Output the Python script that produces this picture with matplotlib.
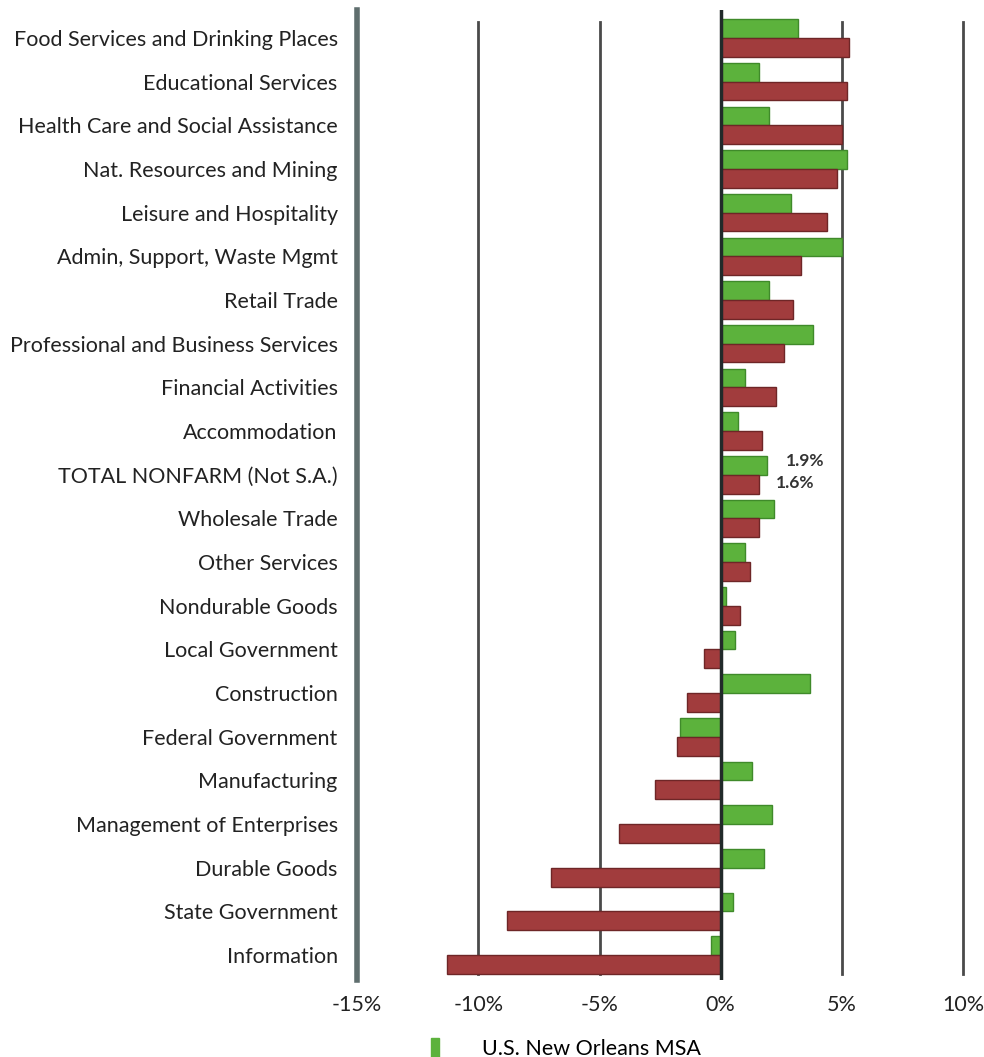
import matplotlib
matplotlib.use("Agg")
import matplotlib.pyplot as plt
import numpy as np
from matplotlib.patches import Patch

categories = [
    "Food Services and Drinking Places", "Educational Services",
    "Health Care and Social Assistance", "Nat. Resources and Mining",
    "Leisure and Hospitality", "Admin, Support, Waste Mgmt", "Retail Trade",
    "Professional and Business Services", "Financial Activities", "Accommodation",
    "TOTAL NONFARM (Not S.A.)", "Wholesale Trade", "Other Services",
    "Nondurable Goods", "Local Government", "Construction", "Federal Government",
    "Manufacturing", "Management of Enterprises", "Durable Goods",
    "State Government", "Information",
]
# year-over-year change, percent
us = [3.2, 1.6, 2.0, 5.2, 2.9, 5.0, 2.0, 3.8, 1.0, 0.7, 1.9, 2.2, 1.0, 0.2,
      0.6, 3.7, -1.7, 1.3, 2.1, 1.8, 0.5, -0.4]
nola = [5.3, 5.2, 5.0, 4.8, 4.4, 3.3, 3.0, 2.6, 2.3, 1.7, 1.6, 1.6, 1.2, 0.8,
        -0.7, -1.4, -1.8, -2.7, -4.2, -7.0, -8.8, -11.3]
xticks = [-15, -10, -5, 0, 5, 10]
xticklabels = ["-15%", "-10%", "-5%", "0%", "5%", "10%"]

plt.rcParams["font.family"] = ["Lato", "DejaVu Sans"]

fig = plt.figure(figsize=(9.84, 10.57), dpi=100)
ax = fig.add_axes([0.363, 0.0728, 0.6157, 0.9177])

y = np.arange(len(categories))
h = 0.43
green = "#5cb23c"
red = "#a13c3d"
ax.barh(y - h / 2, us, height=h, color=green, edgecolor="#3f8a2a", linewidth=1.0, zorder=3)
ax.barh(y + h / 2, nola, height=h, color=red, edgecolor="#6e2627", linewidth=1.0, zorder=3)

# label the total nonfarm pair
i_tot = categories.index("TOTAL NONFARM (Not S.A.)")
ax.annotate(f"{us[i_tot]:.1f}%", (us[i_tot], i_tot - h / 2), xytext=(14, 3),
            textcoords="offset points", va="center", ha="left",
            fontsize=12.5, fontweight="bold", color="#333333")
ax.annotate(f"{nola[i_tot]:.1f}%", (nola[i_tot], i_tot + h / 2), xytext=(12, 1),
            textcoords="offset points", va="center", ha="left",
            fontsize=12.5, fontweight="bold", color="#333333")

ax.set_xlim(-15, 10)
ax.set_ylim(len(categories) - 0.43, -0.64)
ax.set_xticks(xticks)
ax.set_xticklabels(xticklabels)
ax.set_yticks(y)
ax.set_yticklabels(categories)
ax.tick_params(axis="both", length=0, labelsize=15.5, colors="#222222")
ax.tick_params(axis="x", pad=11)
ax.tick_params(axis="y", pad=14)

for v in [-10, -5, 5, 10]:
    ax.axvline(v, color="#4a4a4a", linewidth=2.0, ymin=0.006, ymax=0.988,
               zorder=1, clip_on=False)
ax.axvline(0, color="#222a2a", linewidth=2.5, zorder=4)

for s in ["top", "right", "bottom"]:
    ax.spines[s].set_visible(False)
ax.spines["left"].set_color("#5f6e6e")
ax.spines["left"].set_linewidth(4)

fig.legend(handles=[Patch(color=green)], labels=["U.S. New Orleans MSA"],
           loc="lower left", bbox_to_anchor=(0.418, -0.02), frameon=False,
           fontsize=15.5, handlelength=0.4, handleheight=1.0, handletextpad=2.0)

fig.savefig("out.png", dpi=100)
